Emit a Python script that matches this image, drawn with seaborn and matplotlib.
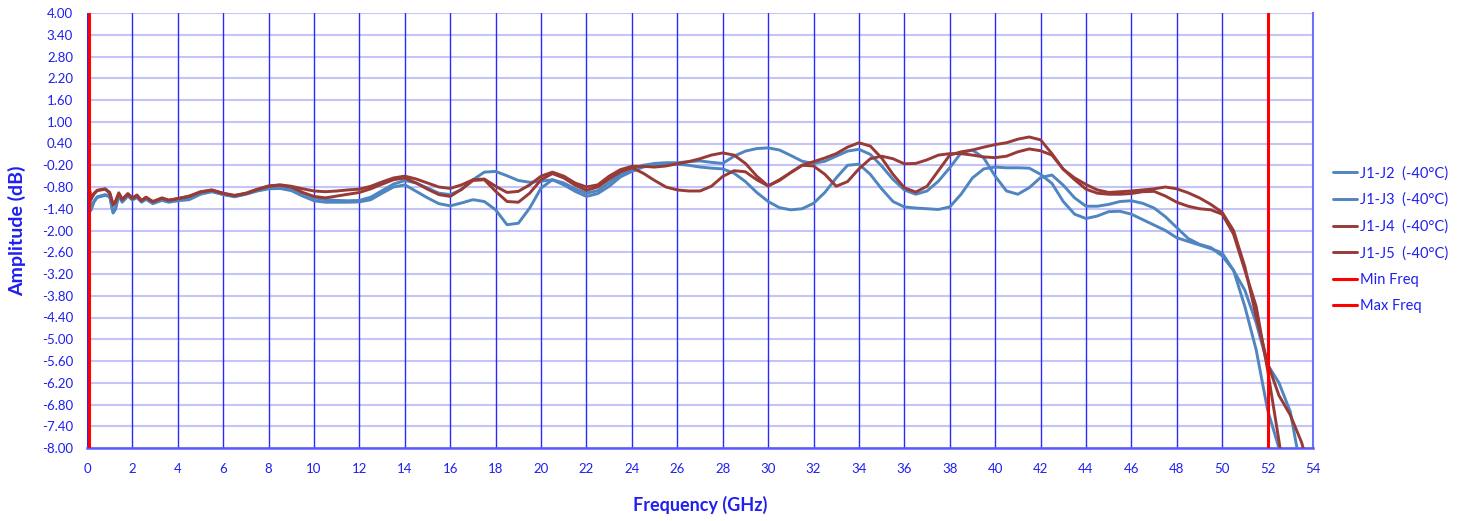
import numpy as np
import pandas as pd
import matplotlib
matplotlib.use("Agg")
import matplotlib.pyplot as plt
from matplotlib.lines import Line2D
import seaborn as sns

# frequency sampling (GHz): dense points at the start, then every 0.5 GHz
freq_low = [0.1, 0.17, 0.3, 0.45, 0.8, 1.0, 1.15, 1.25, 1.4, 1.55, 1.8, 2.0,
            2.2, 2.4, 2.6, 2.9, 3.3, 3.6]
freq_main = list(np.arange(4.0, 54.01, 0.5))
freq = freq_low + freq_main

# amplitude (dB)
j1_j2 = [-0.85, -1.42, -1.20, -1.07, -1.01, -1.05, -1.50, -1.40, -1.02, -1.20, -1.03, -1.14,
         -1.07, -1.20, -1.12, -1.24, -1.15, -1.20,
         -1.15, -1.13, -0.98, -0.92, -1.00, -1.06, -0.99, -0.90, -0.83, -0.82,   # 4 - 8.5
         -0.86, -0.97, -1.10, -1.15, -1.17, -1.18, -1.17, -1.08, -0.90, -0.72,   # 9 - 13.5
         -0.62, -0.69, -0.83, -0.97, -1.01, -0.87, -0.60, -0.39, -0.37, -0.49,   # 14 - 18.5
         -0.62, -0.67, -0.64, -0.60, -0.69, -0.85, -0.97, -0.90, -0.68, -0.45,   # 19 - 23.5
         -0.30, -0.20, -0.15, -0.13, -0.13, -0.10, -0.08, -0.12, -0.15, 0.05,    # 24 - 28.5
         0.19, 0.26, 0.28, 0.22, 0.07, -0.09, -0.15, -0.09, 0.05, 0.19,          # 29 - 33.5
         0.24, 0.10, -0.22, -0.59, -0.88, -1.00, -0.91, -0.64, -0.27, 0.14,      # 34 - 38.5
         0.22, 0.00, -0.50, -0.91, -1.00, -0.82, -0.54, -0.47, -0.75, -1.10,     # 39 - 43.5
         -1.33, -1.33, -1.28, -1.20, -1.18, -1.25, -1.38, -1.62, -1.92, -2.22,   # 44 - 48.5
         -2.38, -2.47, -2.70, -3.10, -3.65, -4.55, -5.70, -6.20, -7.00, -8.70,   # 49 - 53.5
         -9.50]
j1_j3 = [-0.88, -1.45, -1.22, -1.09, -1.03, -1.07, -1.52, -1.42, -1.04, -1.22, -1.05, -1.16,
         -1.09, -1.22, -1.14, -1.26, -1.17, -1.22,
         -1.18, -1.15, -1.00, -0.93, -1.01, -1.07, -1.00, -0.91, -0.85, -0.84,
         -0.90, -1.05, -1.18, -1.22, -1.22, -1.22, -1.21, -1.15, -0.97, -0.80,
         -0.74, -0.92, -1.10, -1.26, -1.32, -1.24, -1.15, -1.20, -1.43, -1.84,
         -1.80, -1.38, -0.83, -0.60, -0.74, -0.92, -1.06, -0.98, -0.78, -0.52,
         -0.37, -0.25, -0.19, -0.17, -0.17, -0.20, -0.25, -0.28, -0.30, -0.42,
         -0.65, -0.95, -1.20, -1.37, -1.43, -1.40, -1.25, -0.95, -0.55, -0.20,
         -0.17, -0.45, -0.85, -1.20, -1.35, -1.38, -1.40, -1.42, -1.35, -1.00,
         -0.55, -0.30, -0.25, -0.27, -0.27, -0.28, -0.45, -0.70, -1.20, -1.55,
         -1.67, -1.60, -1.48, -1.47, -1.55, -1.70, -1.85, -2.00, -2.20, -2.30,
         -2.40, -2.50, -2.62, -3.10, -4.10, -5.30, -6.95, -8.00, -9.50, -10.0,
         -10.0]
j1_j4 = [-0.80, -1.13, -0.98, -0.89, -0.85, -0.95, -1.28, -1.20, -0.96, -1.14, -0.98, -1.10,
         -1.02, -1.17, -1.08, -1.20, -1.10, -1.16,
         -1.12, -1.05, -0.93, -0.88, -0.97, -1.03, -0.97, -0.86, -0.77, -0.74,
         -0.78, -0.85, -0.91, -0.93, -0.91, -0.88, -0.86, -0.78, -0.66, -0.55,
         -0.50, -0.58, -0.69, -0.80, -0.84, -0.74, -0.60, -0.58, -0.78, -0.95,
         -0.92, -0.74, -0.50, -0.39, -0.50, -0.69, -0.80, -0.74, -0.50, -0.32,
         -0.23, -0.23, -0.25, -0.22, -0.16, -0.10, -0.02, 0.08, 0.14, 0.08,
         -0.15, -0.50, -0.77, -0.62, -0.40, -0.20, -0.10, 0.00, 0.12, 0.30,
         0.42, 0.33, 0.00, -0.45, -0.82, -0.94, -0.78, -0.35, 0.08, 0.17,
         0.22, 0.30, 0.37, 0.42, 0.52, 0.58, 0.50, 0.12, -0.31, -0.55,
         -0.73, -0.88, -0.95, -0.93, -0.91, -0.88, -0.85, -0.80, -0.85, -0.96,
         -1.10, -1.28, -1.50, -2.00, -3.00, -4.38, -5.66, -6.55, -7.09, -7.85,
         -9.00]
j1_j5 = [-0.82, -1.15, -1.00, -0.90, -0.86, -0.97, -1.30, -1.22, -0.98, -1.15, -1.00, -1.12,
         -1.04, -1.18, -1.09, -1.21, -1.11, -1.17,
         -1.12, -1.06, -0.94, -0.89, -0.98, -1.04, -0.98, -0.87, -0.78, -0.75,
         -0.80, -0.95, -1.06, -1.10, -1.05, -1.00, -0.95, -0.85, -0.72, -0.60,
         -0.55, -0.69, -0.86, -1.01, -1.06, -0.86, -0.62, -0.60, -0.92, -1.20,
         -1.22, -0.97, -0.60, -0.43, -0.55, -0.75, -0.89, -0.80, -0.58, -0.38,
         -0.27, -0.42, -0.62, -0.80, -0.88, -0.91, -0.91, -0.78, -0.51, -0.35,
         -0.38, -0.60, -0.77, -0.60, -0.40, -0.20, -0.22, -0.45, -0.78, -0.65,
         -0.30, -0.02, 0.05, -0.02, -0.16, -0.15, -0.05, 0.08, 0.12, 0.12,
         0.08, 0.03, 0.01, 0.05, 0.17, 0.25, 0.20, 0.08, -0.31, -0.60,
         -0.86, -0.97, -1.00, -1.00, -0.98, -0.93, -0.92, -1.05, -1.22, -1.33,
         -1.40, -1.43, -1.55, -2.10, -3.10, -4.10, -5.85, -7.80, -10.0, -10.0,
         -10.0]

series_names = ["J1-J2  (-40°C)", "J1-J3  (-40°C)", "J1-J4  (-40°C)", "J1-J5  (-40°C)"]
series_colors = ["#4F85C0", "#4F85C0", "#983A36", "#983A36"]
min_freq = 0.1
max_freq = 52.0

x_ticks = list(range(0, 55, 2))
y_ticks = [round(-8 + 0.6 * i, 2) for i in range(21)]

rows = []
for name, vals in zip(series_names, [j1_j2, j1_j3, j1_j4, j1_j5]):
    for f, v in zip(freq, vals):
        rows.append((name, f, v))
df = pd.DataFrame(rows, columns=["series", "freq", "amp"])

sns.set_style("white")
plt.rcParams['font.family'] = ['Lato', 'DejaVu Sans']

W, H = 1466, 521
fig = plt.figure(figsize=(W / 100, H / 100), dpi=100)
ax = fig.add_axes([87 / W, 1 - 448 / H, (1313 - 87) / W, (448 - 13) / H])

txt_blue = "#1F1FF0"

# grid
for yv in y_ticks:
    ax.axhline(yv, color="#C4C4F6", lw=1.5, zorder=0)
for xv in x_ticks:
    ax.axvline(xv, color="#2A2AFF", lw=1.0, zorder=0.5)

sns.lineplot(data=df, x="freq", y="amp", hue="series", palette=dict(zip(series_names, series_colors)),
             estimator=None, sort=False, lw=2.1, legend=False, ax=ax, zorder=3)

ax.axvline(min_freq, color="#FF0000", lw=2.2, zorder=4)
ax.axvline(max_freq, color="#FF0000", lw=2.2, zorder=4)

ax.set_xlim(0, 54)
ax.set_ylim(-8, 4)
ax.set_xticks(x_ticks)
ax.set_yticks(y_ticks)
ax.set_yticklabels([f"{v:.2f}" for v in y_ticks])
ax.tick_params(axis="both", length=0, labelsize=9.5, labelcolor=txt_blue)
ax.tick_params(axis="x", pad=11)
ax.tick_params(axis="y", pad=10)

for side in ["top", "left"]:
    ax.spines[side].set_visible(False)
ax.spines["bottom"].set_color("#5A5AFF")
ax.spines["bottom"].set_linewidth(1.8)
ax.spines["right"].set_color("#7070FF")
ax.spines["right"].set_linewidth(1.5)

ax.set_xlabel("Frequency (GHz)", fontsize=13, fontweight="bold", color=txt_blue, labelpad=15)
ax.set_ylabel("Amplitude (dB)", fontsize=14, fontweight="bold", color=txt_blue, labelpad=11)

handles = [Line2D([], [], color=c, lw=2.1) for c in series_colors]
handles += [Line2D([], [], color="#FF0000", lw=2.2), Line2D([], [], color="#FF0000", lw=2.2)]
labels = series_names + ["Min Freq", "Max Freq"]
leg = fig.legend(handles, labels, loc="center left", bbox_to_anchor=(0.905, 0.54),
                 frameon=False, fontsize=10.5, handlelength=1.7, handletextpad=0.2,
                 labelspacing=0.85, borderaxespad=0)
for t in leg.get_texts():
    t.set_color(txt_blue)

fig.savefig("out.png", dpi=100)
